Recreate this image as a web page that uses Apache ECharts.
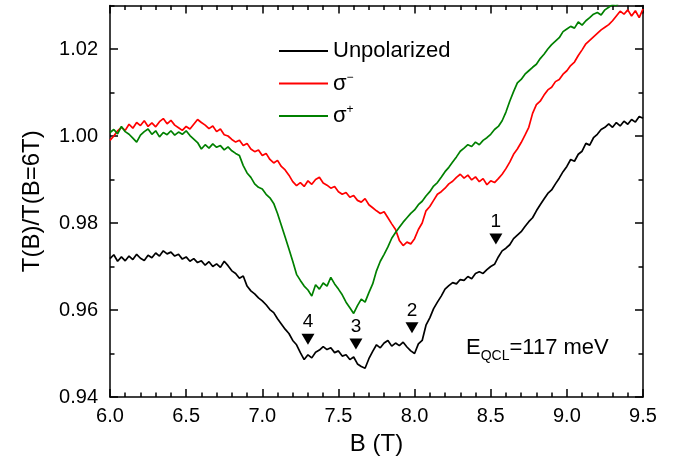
<!DOCTYPE html>
<html>
<head>
<meta charset="utf-8">
<script src="https://cdn.jsdelivr.net/npm/echarts@6/dist/echarts.min.js"></script>
<style>
html,body{margin:0;padding:0;background:#fff;}
#chart{width:687px;height:474px;}
</style>
</head>
<body>
<div id="chart"></div>
<script>
// Magnetic field grid, 6.0 T to 9.5 T, step 0.025 T
const B_START = 6.0, B_STEP = 0.025;

// T(B)/T(B=6T), one row = 0.1 T (4 samples)
const unpolarized = [
 0.9718,0.9727,0.9712,0.9722,
 0.9713,0.9724,0.9716,0.9728,
 0.9719,0.9714,0.9726,0.9720,
 0.9731,0.9724,0.9736,0.9729,
 0.9733,0.9724,0.9728,0.9717,
 0.9722,0.9712,0.9718,0.9709,
 0.9713,0.9703,0.9711,0.9700,
 0.9706,0.9698,0.9712,0.9702,
 0.9690,0.9684,0.9673,0.9678,
 0.9655,0.9644,0.9637,0.9628,
 0.9621,0.9612,0.9601,0.9594,
 0.9580,0.9568,0.9556,0.9546,
 0.9530,0.9520,0.9502,0.9486,
 0.9497,0.9490,0.9503,0.9508,
 0.9516,0.9509,0.9513,0.9502,
 0.9506,0.9494,0.9497,0.9486,
 0.9492,0.9476,0.9470,0.9466,
 0.9488,0.9505,0.9520,0.9513,
 0.9524,0.9530,0.9517,0.9524,
 0.9518,0.9526,0.9515,0.9506,
 0.9500,0.9522,0.9530,0.9565,
 0.9582,0.9603,0.9618,0.9632,
 0.9648,0.9656,0.9663,0.9660,
 0.9670,0.9668,0.9677,0.9672,
 0.9684,0.9688,0.9684,0.9693,
 0.9700,0.9705,0.9722,0.9736,
 0.9742,0.9750,0.9764,0.9772,
 0.9780,0.9792,0.9803,0.9812,
 0.9828,0.9842,0.9855,0.9868,
 0.9876,0.9890,0.9903,0.9918,
 0.9930,0.9946,0.9942,0.9958,
 0.9965,0.9983,0.9979,0.9996,
 1.0004,1.0015,1.0020,1.0028,
 1.0020,1.0031,1.0023,1.0034,
 1.0027,1.0038,1.0032,1.0045,
 1.0041
];

const sigmaMinus = [
 0.9990,1.0000,1.0012,1.0020,
 1.0013,1.0027,1.0018,1.0031,
 1.0024,1.0035,1.0022,1.0030,
 1.0021,1.0033,1.0040,1.0028,
 1.0036,1.0025,1.0019,1.0013,
 1.0022,1.0016,1.0027,1.0038,
 1.0031,1.0025,1.0017,1.0023,
 1.0010,1.0016,1.0003,1.0000,
 0.9992,0.9986,0.9990,0.9978,
 0.9983,0.9970,0.9964,0.9968,
 0.9955,0.9960,0.9946,0.9938,
 0.9944,0.9930,0.9922,0.9910,
 0.9895,0.9886,0.9893,0.9884,
 0.9897,0.9889,0.9900,0.9905,
 0.9892,0.9887,0.9880,0.9884,
 0.9872,0.9866,0.9870,0.9859,
 0.9863,0.9852,0.9848,0.9856,
 0.9842,0.9835,0.9828,0.9822,
 0.9826,0.9812,0.9798,0.9785,
 0.9760,0.9748,0.9756,0.9752,
 0.9764,0.9785,0.9800,0.9828,
 0.9838,0.9852,0.9866,0.9872,
 0.9880,0.9890,0.9896,0.9905,
 0.9912,0.9903,0.9910,0.9899,
 0.9906,0.9895,0.9902,0.9888,
 0.9897,0.9893,0.9902,0.9912,
 0.9925,0.9940,0.9958,0.9970,
 0.9985,1.0002,1.0020,1.0052,
 1.0072,1.0080,1.0094,1.0106,
 1.0112,1.0125,1.0130,1.0142,
 1.0150,1.0162,1.0170,1.0185,
 1.0198,1.0212,1.0220,1.0228,
 1.0236,1.0244,1.0250,1.0256,
 1.0265,1.0276,1.0287,1.0280,
 1.0290,1.0276,1.0288,1.0272,
 1.0292
];

const sigmaPlus = [
 1.0008,1.0015,1.0005,1.0022,
 1.0010,1.0004,0.9995,0.9986,
 1.0002,1.0010,1.0016,1.0004,
 1.0012,0.9998,1.0008,1.0003,
 1.0012,1.0002,1.0009,1.0004,
 1.0012,1.0001,0.9993,0.9985,
 0.9970,0.9980,0.9972,0.9982,
 0.9974,0.9978,0.9968,0.9975,
 0.9966,0.9960,0.9955,0.9932,
 0.9915,0.9905,0.9890,0.9882,
 0.9878,0.9866,0.9858,0.9845,
 0.9822,0.9795,0.9768,0.9740,
 0.9712,0.9682,0.9668,0.9655,
 0.9646,0.9632,0.9658,0.9648,
 0.9662,0.9655,0.9675,0.9660,
 0.9648,0.9635,0.9618,0.9605,
 0.9592,0.9610,0.9625,0.9618,
 0.9640,0.9660,0.9690,0.9712,
 0.9728,0.9745,0.9765,0.9778,
 0.9790,0.9802,0.9812,0.9822,
 0.9830,0.9842,0.9850,0.9862,
 0.9872,0.9885,0.9893,0.9905,
 0.9918,0.9928,0.9940,0.9952,
 0.9965,0.9972,0.9980,0.9976,
 0.9986,0.9980,0.9990,0.9996,
 1.0004,1.0015,1.0022,1.0035,
 1.0055,1.0080,1.0102,1.0122,
 1.0130,1.0142,1.0150,1.0158,
 1.0165,1.0178,1.0188,1.0200,
 1.0210,1.0218,1.0226,1.0240,
 1.0246,1.0252,1.0248,1.0262,
 1.0255,1.0265,1.0272,1.0280,
 1.0284,1.0278,1.0290,1.0296,
 1.0302,1.0300,1.0310,1.0315,
 1.0320,1.0322,1.0330,1.0328,
 1.0335
];

// Arrow markers on the unpolarized curve
const markerLabels = ['1', '2', '3', '4'];
const markerB = [8.534, 7.983, 7.615, 7.300];
const markerV = [0.9763, 0.9559, 0.9522, 0.9533];

const xTickLabels = ['6.0','6.5','7.0','7.5','8.0','8.5','9.0','9.5'];
const yTickLabels = ['0.94','0.96','0.98','1.00','1.02'];

function pairs(vals) {
  return vals.map((v, i) => [+(B_START + i * B_STEP).toFixed(3), v]);
}

const FONT = '"Liberation Sans", Arial, sans-serif';
const X_MIN = 6.0, X_MAX = 9.5, Y_MIN = 0.94, Y_MAX = 1.03;

const chart = echarts.init(document.getElementById('chart'), null, {renderer: 'canvas'});

const axisLine = {show: true, lineStyle: {color: '#000', width: 1.5}};
const majorTick = {show: true, inside: true, length: 8, lineStyle: {color: '#000', width: 1.5}};
const minorTickY = {show: true, inside: true, length: 4.5, lineStyle: {color: '#000', width: 1.5}};

const legendRich = {
  m: {fontSize: 22, fontFamily: FONT, color: '#000', lineHeight: 24, verticalAlign: 'middle'},
  s: {fontSize: 12, fontFamily: FONT, color: '#000', lineHeight: 12, verticalAlign: 'top'}
};

const option = {
  animation: false,
  backgroundColor: '#fff',
  grid: {left: 110, right: 44, top: 5.5, bottom: 77, containLabel: false},
  legend: {
    orient: 'vertical', left: 273, top: 35,
    itemWidth: 49, itemHeight: 24, itemGap: 9.5,
    data: ['Unpolarized', 'σ-', 'σ+'],
    itemStyle: {opacity: 0},
    formatter: function (name) {
      if (name === 'σ-') return '{m|σ}{s|−}';
      if (name === 'σ+') return '{m|σ}{s|+}';
      return '{m|' + name + '}';
    },
    textStyle: {rich: legendRich, fontFamily: FONT, fontSize: 22, color: '#000'}
  },
  xAxis: [
    {
      type: 'value', position: 'bottom', min: X_MIN, max: X_MAX, interval: 0.5,
      axisLine: axisLine, axisTick: majorTick,
      minorTick: {show: true, splitNumber: 5, length: 4.5, lineStyle: {color: '#000', width: 1.5}},
      splitLine: {show: false}, minorSplitLine: {show: false},
      axisLabel: {
        margin: 9, fontSize: 20, fontFamily: FONT, color: '#000',
        formatter: v => { const i = Math.round((v - X_MIN) / 0.5); return xTickLabels[i] || ''; }
      },
      name: 'B (T)', nameLocation: 'middle', nameGap: 35,
      nameTextStyle: {fontSize: 24, fontFamily: FONT, color: '#000'}
    },
    {
      type: 'value', position: 'top', min: X_MIN, max: X_MAX, interval: 0.5,
      axisLine: axisLine, axisTick: majorTick,
      minorTick: {show: true, splitNumber: 5, length: 4.5, lineStyle: {color: '#000', width: 1.5}},
      splitLine: {show: false}, axisLabel: {show: false}
    }
  ],
  yAxis: [
    {
      type: 'value', position: 'left', min: Y_MIN, max: Y_MAX, interval: 0.02,
      axisLine: axisLine, axisTick: majorTick, splitLine: {show: false},
      axisLabel: {
        margin: 12, fontSize: 20, fontFamily: FONT, color: '#000', showMaxLabel: false,
        formatter: v => { const i = Math.round((v - Y_MIN) / 0.02); return (Math.abs(v - (Y_MIN + i * 0.02)) < 1e-6 && yTickLabels[i]) ? yTickLabels[i] : ''; }
      },
      name: 'T(B)/T(B=6T)', nameLocation: 'middle', nameGap: 66,
      nameTextStyle: {fontSize: 24, fontFamily: FONT, color: '#000'}
    },
    {
      type: 'value', position: 'right', min: Y_MIN, max: Y_MAX, interval: 0.02,
      axisLine: axisLine, axisTick: majorTick, splitLine: {show: false},
      axisLabel: {show: false}
    },
    {
      type: 'value', position: 'left', min: Y_MIN, max: Y_MAX, interval: 0.01,
      axisLine: {show: false}, axisTick: minorTickY, splitLine: {show: false},
      axisLabel: {show: false}
    },
    {
      type: 'value', position: 'right', min: Y_MIN, max: Y_MAX, interval: 0.01,
      axisLine: {show: false}, axisTick: minorTickY, splitLine: {show: false},
      axisLabel: {show: false}
    }
  ],
  series: [
    {
      name: 'Unpolarized', type: 'line', data: pairs(unpolarized),
      showSymbol: false, symbol: 'none', clip: true,
      lineStyle: {color: '#000000', width: 1.7}, itemStyle: {color: '#000000'}, z: 3
    },
    {
      name: 'σ-', type: 'line', data: pairs(sigmaMinus),
      showSymbol: false, symbol: 'none', clip: true,
      lineStyle: {color: '#ff0000', width: 1.7}, itemStyle: {color: '#ff0000'}, z: 3
    },
    {
      name: 'σ+', type: 'line', data: pairs(sigmaPlus),
      showSymbol: false, symbol: 'none', clip: true,
      lineStyle: {color: '#008000', width: 1.7}, itemStyle: {color: '#008000'}, z: 3
    },
    {
      name: 'markers', type: 'scatter',
      data: markerB.map((b, i) => ({value: [b, markerV[i]], label: {formatter: markerLabels[i]}})),
      symbol: 'triangle', symbolRotate: 180, symbolSize: [13, 11],
      itemStyle: {color: '#000', opacity: 1},
      label: {show: true, position: 'top', distance: 2, fontSize: 19, fontFamily: FONT, color: '#000'},
      emphasis: {disabled: true},
      z: 4
    }
  ],
  graphic: [
    {
      type: 'text', left: 466, top: 337,
      style: {
        text: '{e|E}{sub|QCL}{e|=117 meV}',
        rich: {
          e: {fontSize: 22, fontFamily: FONT, fill: '#000', lineHeight: 30, verticalAlign: 'middle'},
          sub: {fontSize: 14, fontFamily: FONT, fill: '#000', lineHeight: 14, verticalAlign: 'bottom'}
        }
      }
    }
  ]
};

chart.setOption(option);
</script>
</body>
</html>
